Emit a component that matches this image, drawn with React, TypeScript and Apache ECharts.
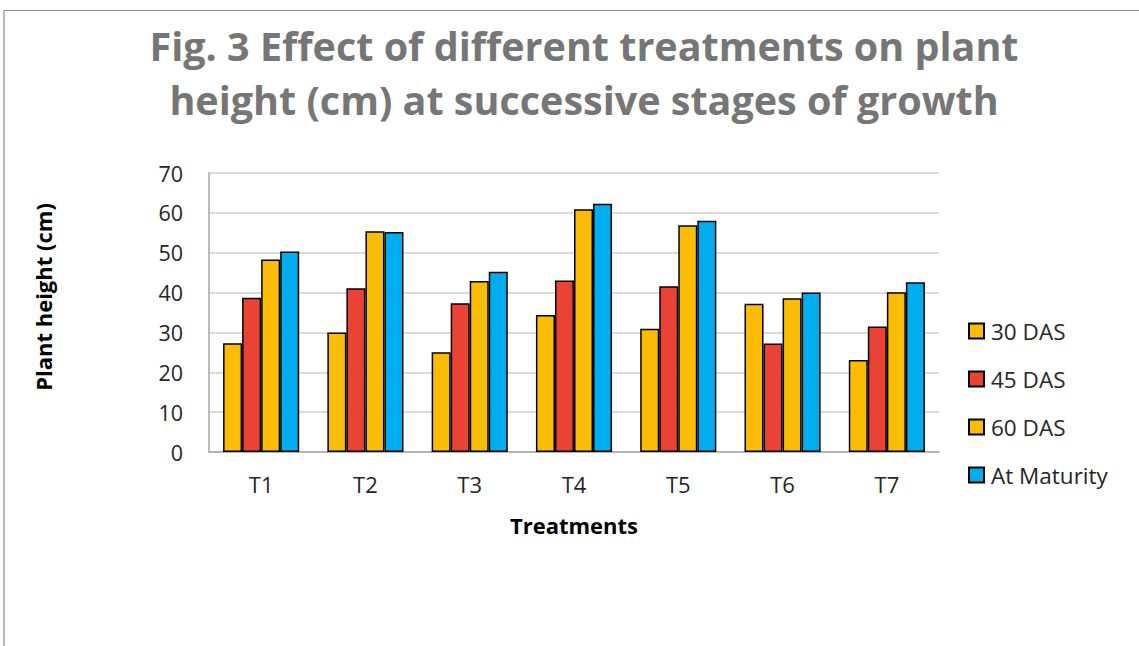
import React, { useEffect, useRef } from "react";
import * as echarts from "echarts";

const categories = ["T1", "T2", "T3", "T4", "T5", "T6", "T7"];
const das30 = [27.3, 30.0, 25.0, 34.4, 30.9, 37.2, 23.1];
const das45 = [38.7, 41.1, 37.3, 43.0, 41.6, 27.2, 31.5];
const das60 = [48.3, 55.4, 42.9, 60.9, 56.9, 38.6, 40.1];
const maturity = [50.3, 55.2, 45.2, 62.3, 58.0, 40.0, 42.6];
const seriesNames = ["30 DAS", "45 DAS", "60 DAS", "At Maturity"];
const seriesColors = ["#FBBC05", "#EA4335", "#FBBC05", "#00AEEF"];

const FONT = "'Open Sans', 'Noto Sans', sans-serif";

export default function App() {
  const ref = useRef<HTMLDivElement>(null);
  useEffect(() => {
    if (!ref.current) return;
    document.body.style.margin = "0";
    document.body.style.overflow = "hidden";
    const chart = echarts.init(ref.current, null, { renderer: "svg" });
    const data = [das30, das45, das60, maturity];
    chart.setOption({
      animation: false,
      backgroundColor: "#ffffff",
      title: {
        text: "Fig. 3 Effect of different treatments on plant\nheight (cm) at successive stages of growth",
        left: 584,
        textAlign: "center",
        top: 19,
        padding: 0,
        textStyle: {
          fontFamily: FONT,
          fontWeight: "bold",
          fontSize: 39.5,
          lineHeight: 54,
          color: "#767676",
        },
      },
      legend: {
        orient: "vertical",
        left: 968,
        top: 319,
        padding: 0,
        itemWidth: 15,
        itemHeight: 15,
        itemGap: 24,
        icon: "rect",
        data: seriesNames,
        textStyle: {
          fontFamily: FONT,
          fontSize: 22.5,
          lineHeight: 24,
          color: "#262626",
          padding: [0, 0, 0, 2],
        },
      },
      grid: { left: 209, right: 200, top: 173, bottom: 194 },
      xAxis: {
        type: "category",
        data: categories,
        name: "Treatments",
        nameLocation: "middle",
        nameGap: 62,
        nameTextStyle: {
          fontFamily: FONT,
          fontWeight: "bold",
          fontSize: 22,
          color: "#000000",
        },
        axisLine: { lineStyle: { color: "#a6a6a6", width: 1.5 } },
        axisTick: { show: false },
        axisLabel: {
          fontFamily: FONT,
          fontSize: 22,
          color: "#262626",
          margin: 21,
        },
      },
      yAxis: {
        type: "value",
        min: 0,
        max: 70,
        interval: 10,
        axisLine: { show: true, lineStyle: { color: "#a6a6a6", width: 1.5 } },
        axisTick: { show: false },
        splitLine: { lineStyle: { color: "#cfcfcf", width: 1.5 } },
        axisLabel: {
          fontFamily: FONT,
          fontSize: 21.5,
          color: "#262626",
          margin: 26,
        },
      },
      graphic: [
        {
          type: "line",
          shape: { x1: 4, y1: 10.5, x2: 1139, y2: 10.5 },
          style: { stroke: "#8c8c8c", lineWidth: 1 },
          silent: true,
        },
        {
          type: "line",
          shape: { x1: 4, y1: 10.5, x2: 4, y2: 646 },
          style: { stroke: "#8c8c8c", lineWidth: 1.2 },
          silent: true,
        },
        {
          type: "text",
          x: 43,
          y: 297,
          rotation: Math.PI / 2,
          style: {
            text: "Plant height (cm)",
            fontFamily: FONT,
            fontWeight: "bold",
            fontSize: 22,
            fill: "#000000",
            align: "center",
            verticalAlign: "middle",
          },
        },
      ],
      series: seriesNames.map((name, i) => ({
        name,
        type: "bar",
        data: data[i],
        barGap: "0%",
        barCategoryGap: "27%",
        itemStyle: {
          color: seriesColors[i],
          borderColor: "#000000",
          borderWidth: 1.5,
        },
      })),
    });
    return () => chart.dispose();
  }, []);
  return (
    <div
      ref={ref}
      style={{ position: "absolute", left: 0, top: 0, width: 1139, height: 646 }}
    />
  );
}
